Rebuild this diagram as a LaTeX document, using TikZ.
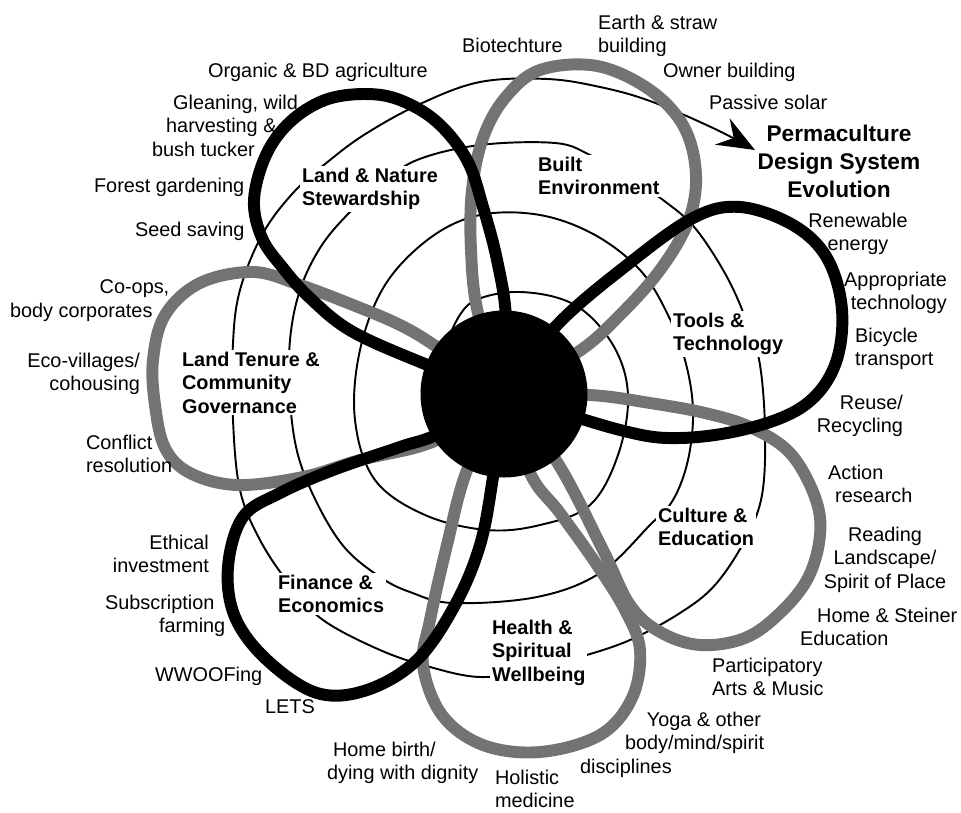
\documentclass[tikz,border=0pt]{standalone}
\usepackage{fontspec}
\setmainfont{Liberation Sans}
\usetikzlibrary{arrows.meta}

\newcommand\itemfont{\fontsize{11.3}{13.3}\selectfont}
\newcommand\areafont{\fontsize{11.3}{13.3}\selectfont\bfseries}
\newcommand\titlefont{\fontsize{12.9}{16}\selectfont\bfseries}

\begin{document}
\begin{tikzpicture}[
	x=0.2mm, y=-0.2mm,
	petal/.style = {line width=6.8pt},
	blackpetal/.style = {petal, draw=black},
	greypetal/.style = {petal, draw=black!55},
	spiral/.style = {line width=1.1pt, line cap=round},
	area/.style = {font=\areafont, align=left, fill=white,
		inner sep=1pt, anchor=north west},
	item/.style = {font=\itemfont, inner sep=1pt},
	hub/.style = {circle, fill=black, minimum size=33.4mm, inner sep=0pt}
]
\useasboundingbox (0,0) rectangle (961,812);
\coordinate (c) at (504,394);

\draw[spiral, -{Stealth[length=7.5mm, width=6mm, inset=2.6mm]}]
	plot[smooth, tension=0.6] coordinates {
	(452,330) (472,302) (520,292) (575,305) (613,345) (628,395)
	(618,455) (590,505) (540,525) (487,530) (425,515) (375,480)
	(355,420) (360,350) (385,285) (430,238) (480,215) (540,215)
	(595,235) (640,270) (667,313) (685,360) (693,410) (688,460)
	(673,500) (650,525) (600,573) (537,597) (453,603) (410,592)
	(380,577) (345,548) (318,505) (298,455) (290,400) (290,340)
	(300,290) (320,248) (347,215) (380,185) (417,160) (480,145)
	(555,143) (590,155) (630,178) (663,200) (695,228) (727,277)
	(748,325) (760,365) (765,430) (762,495) (745,540) (715,585)
	(680,613) (630,640) (580,657) (530,670) (480,677) (430,667)
	(380,650) (323,620) (290,585) (260,540) (240,490) (233,420)
	(233,343) (240,290) (262,235) (293,193) (330,160) (367,133)
	(420,104) (480,82) (547,79) (600,87) (650,101) (713,128) (755,150)};

\node (lns) [area] at (300,166) {Land \& Nature\\Stewardship};
\node (bui) [area] at (536,155) {Built\\Environment};
\node (tot) [area] at (671,311) {Tools \&\\Technology};
\node (ltc) [area] at (180,350) {Land Tenure \&\\Community\\Governance};
\node (cue) [area] at (656,506) {Culture \&\\Education};
\node (fie) [area] at (276,573) {Finance \&\\Economics};
\node (hsw) [area] at (490,618) {Health \&\\Spiritual\\Wellbeing};

\draw[greypetal] plot[smooth, tension=0.6] coordinates {(c) (478,313)
	(471,250) (472,190) (483,138) (505,98) (540,70) (597,66) (650,90)
	(684,127) (696,175) (688,222) (660,270) (620,315) (578,352) (c)};
\draw[greypetal] plot[smooth, tension=0.6] coordinates {(c) (590,395)
	(650,403) (705,413) (750,427) (790,453) (815,497) (820,535)
	(808,578) (780,613) (745,638) (700,645) (660,632) (630,605)
	(603,550) (557,462) (c)};
\draw[greypetal] plot[smooth, tension=0.6] coordinates {(c) (530,473)
	(560,513) (597,565) (625,610) (640,650) (632,698) (600,735)
	(540,752) (483,745) (442,715) (423,665) (430,620) (447,545)
	(467,470) (c)};
\draw[greypetal] plot[smooth, tension=0.6] coordinates {(c) (437,347)
	(400,325) (353,305) (300,285) (253,272) (200,283) (165,315)
	(153,360) (155,405) (165,448) (190,473) (237,485) (303,477)
	(360,460) (437,440) (c)};

\draw[blackpetal] plot[smooth, tension=0.6] coordinates {(c) (506,318)
	(497,260) (483,207) (467,160) (437,122) (400,100) (365,94)
	(325,100) (290,122) (266,155) (254,200) (262,238) (283,268)
	(310,298) (353,332) (430,366) (c)};
\draw[blackpetal] plot[smooth, tension=0.6] coordinates {(c) (557,325)
	(627,265) (693,218) (740,207) (793,225) (827,258) (842,310)
	(835,365) (805,405) (750,428) (680,438) (620,430) (c)};
\draw[blackpetal] plot[smooth, tension=0.6] coordinates {(c) (493,477)
	(480,545) (455,605) (417,660) (367,690) (317,693) (267,660)
	(235,617) (228,567) (243,517) (280,493) (333,470) (400,447)
	(440,433) (c)};

\node (hb) [hub] at (c) {};

\node (pds) [item, font=\titlefont, align=center, anchor=north] at (839,123)
	{Permaculture\\Design System\\Evolution};

\node (org) [item, anchor=north west] at (206,61) {Organic \& BD agriculture};
\node (gle) [item, align=left, anchor=north west] at (150,93)
	{\hspace*{12pt}Gleaning, wild\\\hspace*{8pt}harvesting \&\\bush tucker};
\node (for) [item, anchor=north west] at (92,176) {Forest gardening};
\node (see) [item, anchor=north west] at (133,220) {Seed saving};
\node (bio) [item, anchor=north west] at (460,36) {Biotechture};
\node (ear) [item, align=left, anchor=north west] at (596,13)
	{Earth \& straw\\building};
\node (own) [item, anchor=north west] at (661,61) {Owner building};
\node (pas) [item, anchor=north west] at (707,93) {Passive solar};
\node (ren) [item, align=center, anchor=north] at (858,211) {Renewable\\energy};
\node (app) [item, align=right, anchor=north east] at (949,270)
	{Appropriate\\technology};
\node (bic) [item, align=left, anchor=north west] at (853,326) {Bicycle\\transport};
\node (reu) [item, align=right, anchor=north east] at (905,393) {Reuse/\\Recycling};
\node (act) [item, align=left, anchor=north west] at (826,463)
	{Action\\\hspace*{4pt}research};
\node (rea) [item, align=center, anchor=north] at (885,525)
	{Reading\\Landscape/\\Spirit of Place};
\node (hom) [item, align=left, anchor=north west] at (798,606)
	{\hspace*{9.7pt}Home \& Steiner\\Education};
\node (par) [item, align=left, anchor=north west] at (710,656)
	{Participatory\\Arts \& Music};
\node (yog) [item, align=left, anchor=north west] at (578,710)
	{\hspace*{38pt}Yoga \& other\\\hspace*{25.6pt}body/mind/spirit\\disciplines};
\node (hol) [item, align=left, anchor=north west] at (493,768) {Holistic\\medicine};
\node (hbd) [item, align=left, anchor=north west] at (325,740)
	{\hspace*{3.4pt}Home birth/\\dying with dignity};
\node (let) [item, anchor=north west] at (263,698) {LETS};
\node (wwo) [item, anchor=north west] at (153,665) {WWOOFing};
\node (sub) [item, align=left, anchor=north west] at (103,593)
	{Subscription\\\hspace*{30.7pt}farming};
\node (eth) [item, align=right, anchor=north east] at (211,533)
	{Ethical\\investment};
\node (con) [item, align=left, anchor=north west] at (84,433)
	{Conflict\\resolution};
\node (eco) [item, align=right, anchor=north east] at (142,351)
	{Eco-villages/\\cohousing};
\node (coo) [item, align=left, anchor=north west] at (8,278)
	{\hspace*{51pt}Co-ops,\\body corporates};
\end{tikzpicture}
\end{document}
